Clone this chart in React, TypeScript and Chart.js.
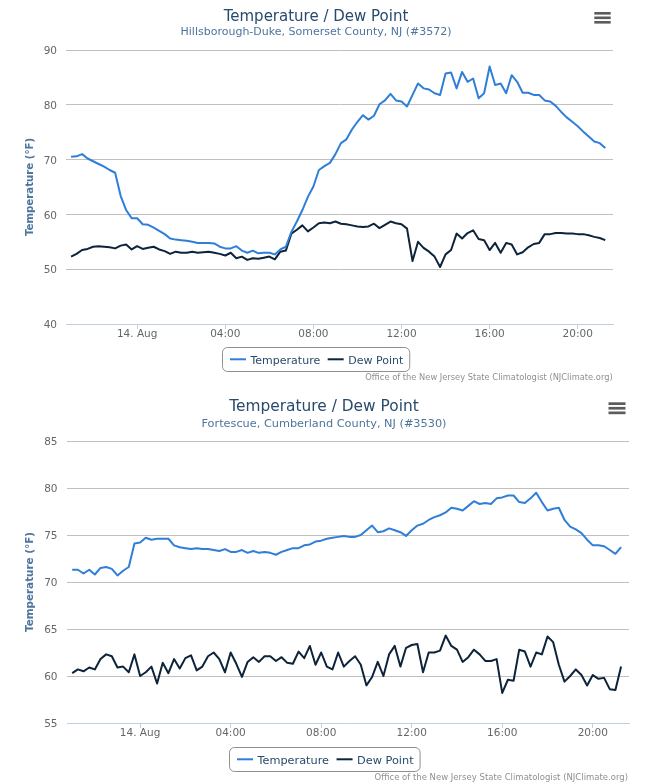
import React, { useEffect, useRef } from "react";
import { Chart, registerables } from "chart.js";

Chart.register(...registerables);

// ---- data -------------------------------------------------------------
const START_HOUR = -3; // 21:00 on 13 Aug, hours relative to midnight
const STEP_HOURS = 0.25;
const X_MIN = -3.23;
const X_MAX = 21.6;
const TICK_HOURS = [0, 4, 8, 12, 16, 20];
const TICK_LABELS = ["14. Aug", "04:00", "08:00", "12:00", "16:00", "20:00"];
const SERIES_NAMES = ["Temperature", "Dew Point"];

const HILLSBOROUGH_TEMP = [
  70.5, 70.6, 71.0, 70.2,
  69.7, 69.2, 68.7, 68.1,
  67.6, 63.4, 60.8, 59.3,
  59.3, 58.2, 58.1, 57.6,
  57.0, 56.4, 55.6, 55.4,
  55.3, 55.2, 55.0, 54.8,
  54.8, 54.8, 54.7, 54.1,
  53.8, 53.8, 54.2, 53.4,
  53.0, 53.4, 52.9, 53.0,
  53.0, 52.7, 53.6, 54.1,
  56.8, 58.7, 60.8, 63.2,
  65.1, 68.1, 68.8, 69.4,
  71.0, 73.0, 73.7, 75.5,
  76.9, 78.1, 77.3, 78.0,
  80.1, 80.8, 82.0, 80.8,
  80.6, 79.7, 81.8, 83.9,
  83.0, 82.8, 82.1, 81.8,
  85.7, 85.9, 83.0, 86.0,
  84.2, 84.8, 81.2, 82.1,
  87.0, 83.6, 83.9, 82.1,
  85.4, 84.2, 82.2, 82.2,
  81.8, 81.8, 80.8, 80.6,
  79.8, 78.7, 77.7, 76.9,
  76.1, 75.1, 74.2, 73.3,
  73.0, 72.1,
];

const HILLSBOROUGH_DEW = [
  52.3, 52.8, 53.5, 53.7,
  54.1, 54.2, 54.1, 54.0,
  53.8, 54.3, 54.5, 53.6,
  54.2, 53.7, 53.9, 54.1,
  53.6, 53.3, 52.8, 53.2,
  53.0, 53.0, 53.2, 53.0,
  53.1, 53.2, 53.0, 52.8,
  52.5, 53.0, 52.0, 52.3,
  51.7, 52.0, 51.9, 52.1,
  52.3, 51.8, 53.2, 53.4,
  56.5, 57.2, 58.0, 56.9,
  57.6, 58.4, 58.5, 58.4,
  58.7, 58.3, 58.2, 58.0,
  57.8, 57.7, 57.8, 58.3,
  57.5, 58.1, 58.7, 58.4,
  58.2, 57.4, 51.5, 55.0,
  53.9, 53.2, 52.3, 50.4,
  52.7, 53.5, 56.5, 55.6,
  56.6, 57.1, 55.5, 55.3,
  53.5, 54.8, 53.0, 54.8,
  54.5, 52.7, 53.1, 54.0,
  54.6, 54.8, 56.4, 56.4,
  56.6, 56.6, 56.5, 56.5,
  56.4, 56.4, 56.2, 55.9,
  55.7, 55.3,
];

const FORTESCUE_TEMP = [
  71.3, 71.3, 70.9, 71.3,
  70.8, 71.5, 71.6, 71.4,
  70.7, 71.2, 71.6, 74.1,
  74.2, 74.7, 74.5, 74.6,
  74.6, 74.6, 73.9, 73.7,
  73.6, 73.5, 73.6, 73.5,
  73.5, 73.4, 73.3, 73.5,
  73.2, 73.2, 73.4, 73.1,
  73.3, 73.1, 73.2, 73.1,
  72.9, 73.2, 73.4, 73.6,
  73.6, 73.9, 74.0, 74.3,
  74.4, 74.6, 74.7, 74.8,
  74.9, 74.8, 74.8, 75.0,
  75.5, 76.0, 75.3, 75.4,
  75.7, 75.5, 75.3, 74.9,
  75.5, 76.0, 76.2, 76.6,
  76.9, 77.1, 77.4, 77.9,
  77.8, 77.6, 78.1, 78.6,
  78.3, 78.4, 78.3, 78.9,
  79.0, 79.2, 79.2, 78.5,
  78.4, 78.9, 79.5, 78.5,
  77.6, 77.8, 77.9, 76.6,
  75.9, 75.6, 75.2, 74.5,
  73.9, 73.9, 73.8, 73.4,
  73.0, 73.7,
];

const FORTESCUE_DEW = [
  60.3, 60.7, 60.5, 60.9,
  60.7, 61.8, 62.3, 62.1,
  60.9, 61.0, 60.4, 62.3,
  60.0, 60.4, 61.0, 59.2,
  61.4, 60.3, 61.8, 60.8,
  61.9, 62.2, 60.6, 61.0,
  62.1, 62.5, 61.8, 60.4,
  62.5, 61.3, 59.9, 61.5,
  62.0, 61.5, 62.1, 62.1,
  61.6, 62.0, 61.4, 61.3,
  62.6, 61.9, 63.2, 61.2,
  62.5, 61.0, 60.7, 62.5,
  61.0, 61.6, 62.1, 61.2,
  59.0, 59.9, 61.5, 60.0,
  62.3, 63.2, 61.0, 63.0,
  63.3, 63.4, 60.4, 62.5,
  62.5, 62.7, 64.3, 63.2,
  62.8, 61.5, 62.0, 62.8,
  62.3, 61.6, 61.6, 61.8,
  58.2, 59.6, 59.5, 62.8,
  62.6, 61.0, 62.5, 62.3,
  64.2, 63.6, 61.2, 59.4,
  60.0, 60.7, 60.1, 59.0,
  60.1, 59.7, 59.8, 58.6,
  58.5, 61.0,
];

// ---- styles -------------------------------------------------------------
const FONT = '"DejaVu Sans", Verdana, sans-serif';
const COLOR_TEMP = "#2f7ed8";
const COLOR_DEW = "#0d233a";
const COLOR_TITLE = "#274b6d";
const COLOR_SUB = "#4d759e";
const COLOR_LABEL = "#666666";
const COLOR_GRID = "#C0C0C0";
const COLOR_AXIS = "#C0D0E0";
const COLOR_CREDITS = "#909090";
const CREDITS = "Office of the New Jersey State Climatologist (NJClimate.org)";

type Panel = {
  width: number;
  height: number;
  top: number;
  title: string;
  subtitle: string;
  temps: number[];
  dews: number[];
  yMin: number;
  yMax: number;
  yStep: number;
  padTop: number;
  padRight: number;
  padBottom: number;
  yWidth: number;
  yLabelPad: number;
  yTitleSize: number;
  cx: number;
  titleSize: number;
  titleBase: number;
  subSize: number;
  subBase: number;
  legendTop: number;
  legendH: number;
  legendBase: number;
  legendSize: number;
  creditsRight: number;
  creditsBase: number;
  creditsSize: number;
  menuX: number;
  menuY: number;
  menuW: number;
  barH: number;
  barGap: number;
};

const PANELS: Panel[] = [
  {
    width: 623, height: 390, top: 0,
    title: "Temperature / Dew Point",
    subtitle: "Hillsborough-Duke, Somerset County, NJ (#3572)",
    temps: HILLSBOROUGH_TEMP, dews: HILLSBOROUGH_DEW,
    yMin: 40, yMax: 90, yStep: 10,
    padTop: 50, padRight: 10, padBottom: 46,
    yWidth: 66, yLabelPad: 9, yTitleSize: 10.2,
    cx: 316, titleSize: 15, titleBase: 21, subSize: 11, subBase: 34.7,
    legendTop: 347, legendH: 24, legendBase: 363.7, legendSize: 11,
    creditsRight: 612.7, creditsBase: 380, creditsSize: 8.3,
    menuX: 594.3, menuY: 12, menuW: 16.4, barH: 2.6, barGap: 4.5,
  },
  {
    width: 638, height: 394, top: 390,
    title: "Temperature / Dew Point",
    subtitle: "Fortescue, Cumberland County, NJ (#3530)",
    temps: FORTESCUE_TEMP, dews: FORTESCUE_DEW,
    yMin: 55, yMax: 85, yStep: 5,
    padTop: 51, padRight: 9, padBottom: 41,
    yWidth: 67, yLabelPad: 9.5, yTitleSize: 10.4,
    cx: 324, titleSize: 15.4, titleBase: 21, subSize: 11.3, subBase: 36.5,
    legendTop: 357, legendH: 24, legendBase: 373.7, legendSize: 11.3,
    creditsRight: 628, creditsBase: 390, creditsSize: 8.5,
    menuX: 608.5, menuY: 12.3, menuW: 17, barH: 2.7, barGap: 4.6,
  },
];

const toPoints = (vals: number[]) =>
  vals.map((y, i) => ({ x: START_HOUR + i * STEP_HOURS, y }));

function roundRect(ctx: CanvasRenderingContext2D, x: number, y: number, w: number, h: number, r: number) {
  ctx.beginPath();
  ctx.moveTo(x + r, y);
  ctx.lineTo(x + w - r, y);
  ctx.arcTo(x + w, y, x + w, y + r, r);
  ctx.lineTo(x + w, y + h - r);
  ctx.arcTo(x + w, y + h, x + w - r, y + h, r);
  ctx.lineTo(x + r, y + h);
  ctx.arcTo(x, y + h, x, y + h - r, r);
  ctx.lineTo(x, y + r);
  ctx.arcTo(x, y, x + r, y, r);
  ctx.closePath();
}

function decorPlugin(p: Panel) {
  return {
    id: "decor",
    afterDraw(chart: any) {
      const ctx: CanvasRenderingContext2D = chart.ctx;
      ctx.save();
      // title + subtitle
      ctx.textAlign = "center";
      ctx.textBaseline = "alphabetic";
      ctx.fillStyle = COLOR_TITLE;
      ctx.font = `${p.titleSize}px ${FONT}`;
      ctx.fillText(p.title, p.cx, p.titleBase);
      ctx.fillStyle = COLOR_SUB;
      ctx.font = `${p.subSize}px ${FONT}`;
      ctx.fillText(p.subtitle, p.cx, p.subBase);

      // legend
      ctx.font = `${p.legendSize}px ${FONT}`;
      const ds = chart.data.datasets;
      const widths = ds.map((d: any) => ctx.measureText(d.label).width);
      const padL = 7.5, sym = 16, gapS = 4.5, gapI = 7.5, padR = 6.5;
      let boxW = padL + padR;
      widths.forEach((w: number, i: number) => {
        boxW += sym + gapS + w + (i > 0 ? gapI : 0);
      });
      const bx = Math.round(p.cx - boxW / 2) + 0.5;
      ctx.strokeStyle = COLOR_CREDITS;
      ctx.lineWidth = 1;
      roundRect(ctx, bx, p.legendTop + 0.5, boxW, p.legendH, 5);
      ctx.stroke();
      let x = bx + padL;
      ctx.textAlign = "left";
      ds.forEach((d: any, i: number) => {
        ctx.strokeStyle = d.borderColor;
        ctx.lineWidth = 2;
        ctx.beginPath();
        const ly = p.legendBase - 4.4;
        ctx.moveTo(x, ly);
        ctx.lineTo(x + sym, ly);
        ctx.stroke();
        x += sym + gapS;
        ctx.fillStyle = COLOR_TITLE;
        ctx.fillText(d.label, x, p.legendBase);
        x += widths[i] + gapI;
      });

      // credits
      ctx.textAlign = "right";
      ctx.fillStyle = COLOR_CREDITS;
      ctx.font = `${p.creditsSize}px ${FONT}`;
      ctx.fillText(CREDITS, p.creditsRight, p.creditsBase);

      // context menu icon
      ctx.fillStyle = "#5c5c5c";
      for (let k = 0; k < 3; k++) {
        ctx.fillRect(p.menuX, p.menuY + k * p.barGap, p.menuW, p.barH);
      }
      ctx.restore();
    },
  };
}

function TempChart({ panel }: { panel: Panel }) {
  const ref = useRef<HTMLCanvasElement | null>(null);
  useEffect(() => {
    if (!ref.current) return;
    const p = panel;
    const chart = new Chart(ref.current, {
      type: "line",
      data: {
        datasets: [
          {
            label: SERIES_NAMES[0],
            data: toPoints(p.temps),
            borderColor: COLOR_TEMP,
            backgroundColor: COLOR_TEMP,
            borderWidth: 2,
            pointRadius: 0,
            tension: 0,
            fill: false,
            borderJoinStyle: "round",
          },
          {
            label: SERIES_NAMES[1],
            data: toPoints(p.dews),
            borderColor: COLOR_DEW,
            backgroundColor: COLOR_DEW,
            borderWidth: 2,
            pointRadius: 0,
            tension: 0,
            fill: false,
            borderJoinStyle: "round",
          },
        ],
      },
      options: {
        responsive: false,
        animation: false,
        events: [],
        devicePixelRatio: 1,
        layout: {
          padding: { left: 0, top: p.padTop, right: p.padRight, bottom: p.padBottom },
        },
        plugins: {
          legend: { display: false },
          title: { display: false },
          tooltip: { enabled: false },
        },
        scales: {
          x: {
            type: "linear",
            min: X_MIN,
            max: X_MAX,
            afterFit: (s: any) => { s.height = 20; },
            afterBuildTicks: (s: any) => {
              s.ticks = TICK_HOURS.map((v) => ({ value: v }));
            },
            grid: {
              drawOnChartArea: false,
              drawTicks: true,
              tickLength: 5,
              color: COLOR_AXIS,
              lineWidth: 1,
            },
            border: { display: true, color: COLOR_AXIS, width: 1 },
            ticks: {
              autoSkip: false,
              maxRotation: 0,
              padding: -1.5,
              color: COLOR_LABEL,
              font: { family: FONT, size: 10.5 },
              callback: (v: any) => {
                const i = TICK_HOURS.indexOf(Number(v));
                return i >= 0 ? TICK_LABELS[i] : "";
              },
            },
          },
          y: {
            type: "linear",
            min: p.yMin,
            max: p.yMax,
            afterFit: (s: any) => { s.width = p.yWidth; },
            grid: {
              drawTicks: false,
              tickLength: 0,
              lineWidth: 1,
              color: (c: any) =>
                c.tick && c.tick.value === p.yMin ? "rgba(0,0,0,0)" : COLOR_GRID,
            },
            border: { display: false },
            ticks: {
              stepSize: p.yStep,
              padding: p.yLabelPad,
              labelOffset: 1.5,
              color: COLOR_LABEL,
              font: { family: FONT, size: 10.5 },
            },
            title: {
              display: true,
              text: "Temperature (°F)",
              color: COLOR_SUB,
              font: { family: FONT, size: p.yTitleSize, weight: "bold" },
              padding: { top: 24, bottom: 0 },
            },
          },
        },
      },
      plugins: [decorPlugin(p)],
    } as any);
    return () => chart.destroy();
  }, [panel]);
  return (
    <canvas
      ref={ref}
      width={panel.width}
      height={panel.height}
      style={{
        position: "absolute",
        left: 0,
        top: panel.top,
        width: panel.width,
        height: panel.height,
        display: "block",
      }}
    />
  );
}

export default function App() {
  return (
    <div
      style={{
        position: "absolute",
        left: 0,
        top: 0,
        width: 659,
        height: 784,
        background: "#ffffff",
        overflow: "hidden",
      }}
    >
      {PANELS.map((p, i) => (
        <TempChart key={i} panel={p} />
      ))}
    </div>
  );
}
